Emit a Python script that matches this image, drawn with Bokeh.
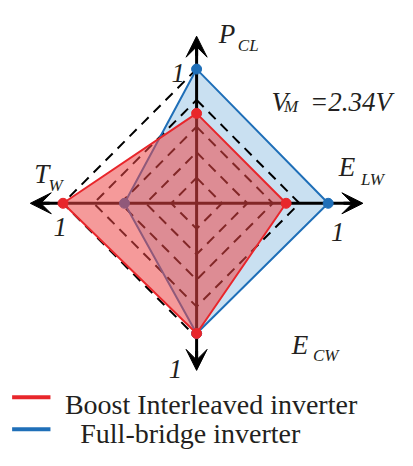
from bokeh.plotting import figure
from bokeh.models import Range1d, Arrow, VeeHead
from bokeh.core.properties import value
from bokeh.embed import file_html
from bokeh.resources import INLINE

# ---- data ----
axis_names = ["P_CL", "E_LW", "E_CW", "T_W"]          # up, right, down, left
boost = [0.67, 0.67, 0.97, 1.00]                      # Boost Interleaved inverter
fullbridge = [1.00, 0.985, 0.97, 0.54]                # Full-bridge inverter
grid_levels = [0.19, 0.38, 0.57, 0.77]
outer_left_level = [1.0]
series_names = ["Boost Interleaved inverter", "Full-bridge inverter"]
vm_text = "=2.34V"

# axis direction vectors (up, right, down, left)
DX = [0, 1, 0, -1]
DY = [1, 0, -1, 0]

def poly(vals):
    xs = [v * dx for v, dx in zip(vals, DX)]
    ys = [v * dy for v, dy in zip(vals, DY)]
    return xs, ys

SERIF = value("Liberation Serif")
BLUE = "#1f6fb8"
RED = "#e8262b"

p = figure(width=397, height=450, x_range=Range1d(-1.468, 1.504), y_range=Range1d(-1.842, 1.511),
           output_backend="svg", toolbar_location=None, min_border=0,
           x_axis_type=None, y_axis_type=None)
p.grid.visible = False
p.outline_line_color = None
p.background_fill_color = "white"

# blue fill (underneath)
bx, by = poly(fullbridge)
p.patch(bx, by, fill_color="#c9e0f1", line_color=None)

# dashed grid
gx, gy = [], []
for L in grid_levels:
    gx.append([0, L, 0, -L, 0])
    gy.append([L, 0, -L, 0, L])
for L in outer_left_level:
    gx.append([0, -L, 0])
    gy.append([L, 0, -L])
p.multi_line(gx, gy, line_color="black", line_width=2, line_dash="10 7")

# axis shafts
AX = 1.22
p.segment(x0=[-AX, 0], y0=[0, -AX], x1=[AX, 0], y1=[0, AX], line_color="black", line_width=3)
for dx, dy in zip(DX, DY):
    p.add_layout(Arrow(x_start=dx * 1.1, y_start=dy * 1.1, x_end=dx * 1.245, y_end=dy * 1.245,
                       line_color="black", line_width=3,
                       end=VeeHead(size=21, fill_color="black", line_color="black", line_width=1)))

# full-bridge outline and points
p.patch(bx, by, fill_color=None, line_color=BLUE, line_width=2)
p.scatter(bx, by, size=10, color=BLUE)

# boost interleaved
rx, ry = poly(boost)
p.patch(rx, ry, fill_color=(236, 71, 71), fill_alpha=0.55, line_color=None)
p.patch(rx, ry, fill_color=None, line_color=RED, line_width=2)
p.scatter(rx, ry, size=10, color=RED)

# ---- labels ----
def txt(x, y, s, size, italic=True, color="#231f20"):
    p.text(x=[x], y=[y], text=[s], text_font=SERIF, text_font_size=f"{size}px",
           text_font_style="italic" if italic else "normal", text_color=color,
           text_baseline="alphabetic", text_align="left")

main, sub = 27, 17
# axis titles (name with subscript)
txt(0.165, 1.259, axis_names[0][0], main); txt(0.309, 1.173, axis_names[0][2:], sub)
txt(1.065, 0.273, axis_names[1][0], main); txt(1.230, 0.180, axis_names[1][2:], sub)
txt(0.712, -1.058, axis_names[2][0], main); txt(0.871, -1.137, axis_names[2][2:], sub)
txt(-1.216, 0.216, axis_names[3][0], main); txt(-1.108, 0.129, axis_names[3][2:], sub)
# V_M
txt(0.561, 0.755, "V", main); txt(0.655, 0.719, "M", sub); txt(0.849, 0.755, vm_text, main)
# unit marks
txt(-0.187, 0.971, "1", main)
txt(-1.072, -0.173, "1", main)
txt(1.007, -0.216, "1", main)
txt(-0.209, -1.237, "1", main)

# legend
p.segment(x0=[-1.381, -1.381], y0=[-1.446, -1.683], x1=[-1.094, -1.094], y1=[-1.446, -1.683],
          line_color=[RED, BLUE], line_width=4)
txt(-0.986, -1.496, series_names[0], 28, italic=False)
txt(-0.871, -1.712, series_names[1], 28, italic=False)

open("out.html", "w").write(file_html(p, INLINE))
